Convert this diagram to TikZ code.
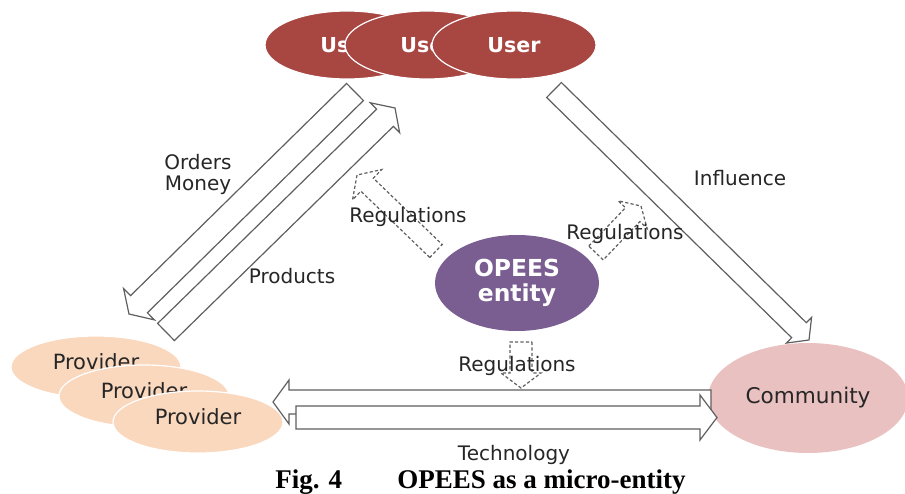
\documentclass[tikz,border=0pt]{standalone}
\usepackage{fontspec}
\setmainfont{DejaVu Sans}
\newfontfamily\figcapfont{Liberation Serif}
\usetikzlibrary{calc,shapes.geometric}

\definecolor{userred}{RGB}{168,70,66}
\definecolor{opeesviolet}{RGB}{122,94,146}
\definecolor{provpeach}{RGB}{250,216,190}
\definecolor{commpink}{RGB}{234,193,193}
\definecolor{arrowgray}{RGB}{95,95,95}

\tikzset{
  bubble/.style={ellipse, inner sep=0pt},
  userbub/.style={bubble, fill=userred, draw=white, line width=0.6pt,
    minimum width=82pt, minimum height=34pt, text=white,
    font=\bfseries\fontsize{10.3}{12}\selectfont},
  provbub/.style={bubble, fill=provpeach, draw=white, line width=0.6pt,
    minimum width=85pt, minimum height=31pt, text=black!85, text depth=5pt,
    font=\fontsize{10.5}{12}\selectfont},
  blockarr/.style={fill=white, draw=arrowgray, line width=0.6pt, line join=miter},
  regarr/.style={blockarr, dash pattern=on 1.6pt off 1.1pt},
  lbl/.style={text=black!85, inner sep=0pt, anchor=base}
}

% hollow block arrow: tail, tip, half body, half head, head length
\newcommand{\hollowarrow}[6][]{%
  \coordinate (ha-base) at ($(#3)!#6!(#2)$);
  \draw[#1] ($(#2)!#4!90:(#3)$) -- ($(ha-base)!#4!90:(#3)$)
    -- ($(ha-base)!#5!90:(#3)$) -- (#3)
    -- ($(ha-base)!#5!-90:(#3)$) -- ($(ha-base)!#4!-90:(#3)$)
    -- ($(#2)!#4!-90:(#3)$) -- cycle;}

\begin{document}
\begin{tikzpicture}[x=0.5pt, y=-0.5pt, font=\fontsize{10}{10.5}\selectfont]
    \useasboundingbox (0,0) rectangle (905,493);

    \node[userbub] (user1) at (347,45) {User};
    \node[userbub] (user2) at (427,45) {User};
    \node[userbub] (user3) at (514,45) {User};

    \node[bubble, fill=opeesviolet, minimum width=82pt, minimum height=48pt,
      text=white, align=center, font=\bfseries\fontsize{11.7}{12.5}\selectfont]
      (opees) at (517,283) {OPEES\\entity};

    \node[bubble, fill=commpink, minimum width=100pt, minimum height=55pt,
      text=black!85, font=\fontsize{10.8}{12}\selectfont]
      (community) at (808,398) {Community};

    \node[provbub] (prov1) at (96,367) {Provider};
    \node[provbub] (prov2) at (144,396) {Provider};
    \node[provbub] (prov3) at (198,422) {Provider};

    \coordinate (om-tail) at (355,92);
    \coordinate (om-tip) at (129,314);
    \coordinate (pr-tail) at (166,332);
    \coordinate (pr-tip) at (395,108);
    \coordinate (inf-tail) at (554,90);
    \coordinate (inf-tip) at (809,340);
    \coordinate (tl-tail) at (711,402);
    \coordinate (tl-tip) at (273,402);
    \coordinate (tr-tail) at (296,417.5);
    \coordinate (tr-tip) at (717,417.5);
    \coordinate (rl-tail) at (436,251);
    \coordinate (rl-tip) at (357,175);
    \coordinate (rr-tail) at (596,253);
    \coordinate (rr-tip) at (641,206);
    \coordinate (rd-tail) at (521,342);
    \coordinate (rd-tip) at (521,388);

    \hollowarrow[blockarr]{om-tail}{om-tip}{6pt}{11pt}{7pt}
    \hollowarrow[blockarr]{pr-tail}{pr-tip}{6pt}{10.5pt}{7pt}
    \hollowarrow[blockarr]{inf-tail}{inf-tip}{5.25pt}{9pt}{7pt}
    \hollowarrow[blockarr]{tl-tail}{tl-tip}{6pt}{11pt}{8pt}
    \hollowarrow[blockarr]{tr-tail}{tr-tip}{5.75pt}{11.25pt}{8.5pt}
    \hollowarrow[regarr]{rl-tail}{rl-tip}{4.5pt}{10.5pt}{7pt}
    \hollowarrow[regarr]{rr-tail}{rr-tip}{5pt}{10pt}{6pt}
    \hollowarrow[regarr]{rd-tail}{rd-tip}{5.5pt}{10pt}{7.5pt}

    \node[text=black!85, align=center] (orders) at (198,174) {Orders\\Money};
    \node[lbl] (products) at (292,283) {Products};
    \node[lbl] (reg-left) at (408,222) {Regulations};
    \node[lbl] (reg-right) at (625,239) {Regulations};
    \node[lbl] (influence) at (740,185) {Influence};
    \node[lbl] (reg-down) at (517,371) {Regulations};
    \node[lbl] (technology) at (514,460) {Technology};

    \node[inner sep=0pt, anchor=base west, font=\figcapfont\bfseries\fontsize{13.5}{15}\selectfont]
      (figno) at (275,488) {Fig. 4};
    \node[inner sep=0pt, anchor=base west, font=\figcapfont\bfseries\fontsize{13.5}{15}\selectfont]
      (figtitle) at (397,488) {OPEES as a micro-entity};
\end{tikzpicture}
\end{document}
